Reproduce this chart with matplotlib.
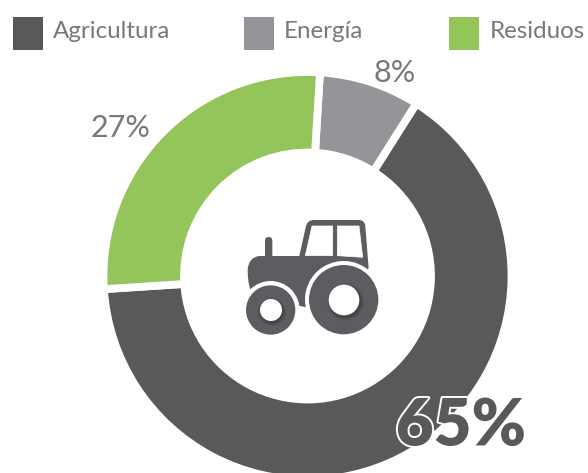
import matplotlib
matplotlib.use("Agg")
import matplotlib.pyplot as plt
import matplotlib.patheffects as pe
from matplotlib.patches import Circle, Rectangle, PathPatch, Polygon
from matplotlib.path import Path

categories = ["Energía", "Agricultura", "Residuos"]
values = [8, 65, 27]
value_labels = ["8%", "65%", "27%"]
colors = ["#939598", "#58595b", "#94c55b"]
legend_order = ["Agricultura", "Energía", "Residuos"]

W, H = 588, 473
plt.rcParams["font.family"] = ["Lato", "Open Sans", "DejaVu Sans"]
TXT = "#77787a"
DARK = colors[1]

fig = plt.figure(figsize=(W / 100, H / 100), dpi=100)
ax = fig.add_axes([0, 0, 1, 1])

def Y(y):
    return H - y

cx, cy, R, r = 307.5, 276, 204, 123.5
ax.pie(values, colors=colors, startangle=86.5, counterclock=False,
       center=(cx, Y(cy)), radius=R, frame=True,
       wedgeprops=dict(width=R - r, edgecolor="white", linewidth=5.6))
ax.set_xlim(0, W)
ax.set_ylim(0, H)
ax.set_aspect("auto")
ax.axis("off")

# tractor icon, coordinates in the reference's zoomed crop
def Z(x, y):
    return 220 + x / 3, Y(200 + y / 3)

def poly(points, fc, z=5):
    verts = [Z(*p) for p in points]
    ax.add_patch(Polygon(verts, closed=True, fc=fc, ec=fc, lw=0.5, joinstyle="round", zorder=z))

def circ(x, y, rad, fc, z, alpha=1):
    ax.add_patch(Circle(Z(x, y), rad / 3, fc=fc, ec="none", zorder=z, alpha=alpha))

def rounded(codes_pts, fc, z=5):
    verts = [Z(*p) for _, p in codes_pts]
    codes = [c for c, _ in codes_pts]
    ax.add_patch(PathPatch(Path(verts, codes), fc=fc, ec="none", zorder=z))

M, L, C3, CL = Path.MOVETO, Path.LINETO, Path.CURVE3, Path.CLOSEPOLY
ICON = "#5c5d60"
rounded([(M, (135, 175)), (L, (135, 122)), (C3, (135, 111)), (C3, (146, 111)),
         (C3, (157, 111)), (C3, (157, 122)), (L, (157, 175)), (CL, (157, 175))], ICON)
rounded([(M, (118, 168)), (L, (238, 168)), (L, (257, 82)), (C3, (261, 60)), (C3, (282, 60)),
         (L, (416, 60)), (C3, (434, 60)), (C3, (436, 78)), (L, (446, 205)), (L, (300, 330)),
         (L, (240, 318)), (L, (92, 270)), (C3, (83, 250)), (L, (83, 210)), (C3, (85, 172)),
         (C3, (118, 168)), (CL, (118, 168))], ICON)
poly([(256, 167), (276, 78), (338, 78), (338, 167)], "white", 6)
poly([(352, 78), (417, 78), (428, 172), (352, 167)], "white", 6)
# wheels
circ(371, 299, 116, "white", 7)
circ(371, 299, 104, ICON, 8)
circ(152, 330, 87, "white", 7.5)
circ(152, 330, 74, ICON, 8)
# soft shadow round the wheel holes
for grow, a in [(10, 0.10), (7, 0.14), (4, 0.18), (2, 0.22)]:
    circ(377, 306, 46 + grow, "#2e2f31", 8.5, a)
    circ(156, 335, 33 + grow, "#2e2f31", 8.5, a)
circ(372, 300, 46, "white", 9)
circ(153, 330, 33, "white", 9)

# value labels
ax.text(395, Y(73), value_labels[0], fontsize=22, color=TXT, ha="center", va="center")
ax.text(121, Y(128), value_labels[2], fontsize=22, color=TXT, ha="center", va="center")
ax.text(461, Y(427), value_labels[1], fontsize=47, color=DARK, ha="center", va="center", fontweight="heavy",
        path_effects=[pe.withStroke(linewidth=2.8, foreground="white")], zorder=12)

# legend
lx = [(13, 53), (244, 284), (449, 490)]
for name, (sx, tx) in zip(legend_order, lx):
    col = colors[categories.index(name)]
    ax.add_patch(Rectangle((sx, Y(50)), 30, 33, fc=col, ec="none", zorder=5))
    ax.text(tx, Y(32), name, fontsize=17.4, color=TXT, ha="left", va="center")

fig.savefig("out.png", dpi=100, facecolor="white")
